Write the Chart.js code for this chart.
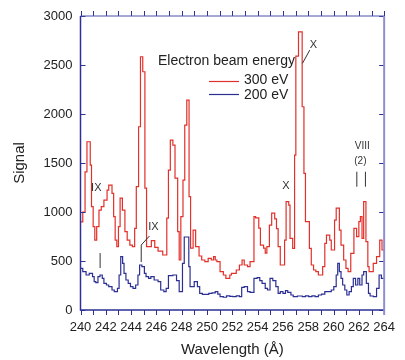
<!DOCTYPE html>
<html>
<head>
<meta charset="utf-8">
<script src="https://cdn.jsdelivr.net/npm/chart.js@4.4.1/dist/chart.umd.min.js"></script>
<style>
  html, body { margin: 0; padding: 0; background: #fff; }
  #wrap { width: 405px; height: 360px; }
</style>
</head>
<body>
<div id="wrap"><canvas id="spectrum" width="405" height="360"></canvas></div>
<script>
// Step edges (Å) and signal for 300 eV beam energy
const wl300 = [240.0, 240.18, 240.36, 240.51, 240.77, 240.87, 241.0, 241.13, 241.28, 241.46, 241.64, 241.85,
  242.1, 242.23, 242.49, 242.62, 242.74, 242.87, 243.0, 243.13, 243.31, 243.51, 243.69, 243.9, 244.1, 244.28,
  244.41, 244.59, 244.74, 244.92, 245.09, 245.22, 245.6, 245.87, 246.13, 246.5, 246.82, 246.95, 247.1, 247.3,
  247.47, 247.68, 247.8, 247.93, 248.1, 248.24, 248.4, 248.58, 248.7, 248.9, 249.1, 249.37, 249.58, 249.83,
  250.09, 250.34, 250.52, 250.65, 250.78, 251.03, 251.29, 251.49, 251.8, 251.93, 252.31, 252.56, 252.77, 252.94,
  253.2, 253.4, 253.71, 253.84, 254.09, 254.22, 254.47, 254.6, 254.73, 254.93, 255.11, 255.35, 255.49, 255.62,
  255.79, 256.13, 256.25, 256.46, 256.56, 256.77, 256.92, 257.02, 257.23, 257.52, 257.66, 257.78, 258.09, 258.24,
  258.42, 258.6, 258.8, 259.14, 259.31, 259.44, 259.7, 259.82, 260.08, 260.21, 260.46, 260.59, 260.8, 260.98,
  261.15, 261.36, 261.61, 261.82, 262.0, 262.12, 262.25, 262.38, 262.56, 262.71, 262.81, 263.14, 263.4, 263.65,
  263.83, 264.0];
const signal300 = [900, 1000, 1410, 1717, 1479, 1054, 850, 714, 850, 1020, 1054, 1122,
  1224, 1275, 1190, 952, 714, 646, 850, 1142, 1020, 799, 714, 663, 646, 833,
  1258, 1870, 2584, 2431, 1244, 646, 707, 640, 600, 561, 938, 1428, 1734, 1683,
  1346, 799, 510, 952, 1326, 1887, 2142, 1156, 632, 816, 646, 551, 510, 493,
  527, 510, 544, 510, 493, 391, 357, 323, 357, 374, 408, 459, 510, 459,
  442, 493, 952, 940, 836, 663, 632, 581, 646, 867, 989, 930, 830, 646,
  459, 714, 1105, 1071, 731, 629, 1580, 2590, 2839, 2074, 1394, 901, 629, 459,
  408, 391, 357, 442, 680, 765, 714, 612, 918, 1040, 816, 663, 510, 425,
  391, 578, 833, 748, 901, 952, 731, 1105, 697, 442, 391, 476, 544, 714,
  612, 612];

// Step edges (Å) and signal for 200 eV beam energy
const wl200 = [240.0, 240.18, 240.44, 240.69, 240.95, 241.08, 241.21, 241.38, 241.54, 241.72, 241.85, 242.05,
  242.23, 242.49, 242.67, 242.92, 243.05, 243.18, 243.33, 243.44, 243.59, 243.77, 243.95, 244.15, 244.36, 244.54,
  244.67, 244.85, 245.05, 245.18, 245.38, 245.56, 245.82, 246.13, 246.34, 246.59, 246.77, 246.95, 247.3, 247.59,
  247.8, 248.06, 248.2, 248.56, 248.66, 248.99, 249.24, 249.42, 249.63, 250.14, 250.39, 250.65, 250.85, 251.03,
  251.29, 251.54, 251.8, 252.05, 252.31, 252.56, 252.74, 252.94, 253.2, 253.4, 253.71, 253.96, 254.17, 254.35,
  254.6, 254.78, 254.98, 255.2, 255.44, 255.62, 255.79, 256.0, 256.2, 256.38, 256.63, 256.81, 257.14, 257.53,
  257.78, 258.03, 258.29, 258.54, 258.8, 259.05, 259.31, 259.82, 260.02, 260.21, 260.33, 260.46, 260.59, 260.72,
  260.89, 261.05, 261.23, 261.41, 261.56, 261.74, 261.92, 262.07, 262.25, 262.38, 262.59, 262.76, 262.89, 263.14,
  263.4, 263.6, 263.78, 264.0];
const signal200 = [425, 391, 357, 374, 340, 289, 280, 340, 357, 323, 272, 255,
  238, 204, 187, 221, 357, 544, 476, 374, 306, 272, 238, 221, 255, 357,
  459, 442, 374, 340, 323, 340, 306, 289, 204, 187, 220, 350, 357, 300,
  187, 476, 745, 442, 238, 289, 238, 170, 160, 170, 175, 187, 163, 136,
  130, 145, 140, 136, 145, 136, 231, 238, 187, 180, 323, 330, 300, 272,
  221, 204, 323, 300, 238, 170, 187, 170, 197, 180, 153, 136, 143, 136,
  145, 136, 145, 136, 153, 163, 187, 204, 238, 357, 476, 391, 323, 255,
  204, 153, 187, 238, 323, 255, 323, 255, 357, 391, 272, 170, 143, 136,
  221, 357, 323, 323];

const xTicks = [240, 242, 244, 246, 248, 250, 252, 254, 256, 258, 260, 262, 264];
const yTicks = [0, 500, 1000, 1500, 2000, 2500, 3000];

// Ion-stage labels: text, wavelength, signal
const labelTexts = ['IX', 'IX', 'X', 'X', 'VIII', '(2)'];
const labelWl = [241.25, 245.76, 256.23, 258.41, 262.27, 262.12];
const labelSig = [1244, 847, 1270, 2703, 1668, 1520];
// Marker lines: [wl1, sig1, wl2, sig2]
const markLines = [
  [241.55, 581, 241.55, 428],
  [244.8, 663, 244.8, 490],
  [244.8, 663, 245.45, 755],
  [257.54, 2516, 258.12, 2652],
  [261.84, 1411, 261.84, 1258],
  [262.52, 1411, 262.52, 1258]
];

const toPoints = (xs, ys) => xs.map((x, i) => ({ x: x, y: ys[i] }));

const AXIS_BLUE = '#2e3192';
const FONT = 'Liberation Sans, Arial, sans-serif';

const framePlugin = {
  id: 'frame',
  afterDraw(chart) {
    const ctx = chart.ctx;
    const { left, right, top, bottom } = chart.chartArea;
    const xs = chart.scales.x, ys = chart.scales.y;
    ctx.save();
    // ticks
    ctx.strokeStyle = AXIS_BLUE;
    ctx.lineWidth = 1;
    ctx.beginPath();
    for (let v = 240; v <= 264; v++) {
      const px = Math.round(xs.getPixelForValue(v)) + 0.5;
      ctx.moveTo(px, bottom); ctx.lineTo(px, bottom + 5);
      ctx.moveTo(px, top); ctx.lineTo(px, top - 5);
    }
    yTicks.forEach(v => {
      const py = Math.round(ys.getPixelForValue(v)) + 0.5;
      ctx.moveTo(left, py); ctx.lineTo(left + 5, py);
      ctx.moveTo(right, py); ctx.lineTo(right - 5, py);
    });
    ctx.stroke();
    // frame
    ctx.lineWidth = 1.5;
    ctx.beginPath();
    ctx.moveTo(left, top); ctx.lineTo(left, bottom); ctx.lineTo(right, bottom);
    ctx.stroke();
    ctx.lineWidth = 1;
    ctx.strokeStyle = '#4a4ea8';
    ctx.beginPath();
    ctx.moveTo(left, top); ctx.lineTo(right, top);
    ctx.stroke();
    ctx.lineWidth = 2;
    ctx.strokeStyle = '#8d8fcf';
    ctx.beginPath();
    ctx.moveTo(right, top); ctx.lineTo(right, bottom + 5);
    ctx.stroke();

    // annotations
    ctx.strokeStyle = '#333';
    ctx.lineWidth = 1;
    ctx.beginPath();
    markLines.forEach(m => {
      ctx.moveTo(xs.getPixelForValue(m[0]), ys.getPixelForValue(m[1]));
      ctx.lineTo(xs.getPixelForValue(m[2]), ys.getPixelForValue(m[3]));
    });
    ctx.stroke();
    ctx.fillStyle = '#333';
    ctx.textAlign = 'center';
    ctx.textBaseline = 'middle';
    labelTexts.forEach((t, i) => {
      ctx.font = (t === 'VIII' || t === '(2)' ? '10px ' : '11px ') + FONT;
      ctx.fillText(t, xs.getPixelForValue(labelWl[i]), ys.getPixelForValue(labelSig[i]));
    });

    // legend
    ctx.fillStyle = '#222';
    ctx.font = '14px ' + FONT;
    ctx.textAlign = 'left';
    ctx.textBaseline = 'alphabetic';
    ctx.fillText('Electron beam energy', 158, 65);
    ctx.fillText('300 eV', 244, 84);
    ctx.fillText('200 eV', 244, 99);
    ctx.lineWidth = 1.2;
    ctx.strokeStyle = chart.data.datasets[0].borderColor;
    ctx.beginPath(); ctx.moveTo(209, 81.5); ctx.lineTo(239, 81.5); ctx.stroke();
    ctx.strokeStyle = chart.data.datasets[1].borderColor;
    ctx.beginPath(); ctx.moveTo(209, 94.5); ctx.lineTo(239, 94.5); ctx.stroke();
    ctx.restore();
  }
};

const ctx = document.getElementById('spectrum').getContext('2d');
const spectrumChart = new Chart(ctx, {
  type: 'line',
  data: {
    datasets: [{
      label: '300 eV',
      data: toPoints(wl300, signal300),
      borderColor: '#e2302a',
      borderWidth: 1.2,
      stepped: 'before',
      pointRadius: 0,
      fill: false
    }, {
      label: '200 eV',
      data: toPoints(wl200, signal200),
      borderColor: '#2b2f93',
      borderWidth: 1.2,
      stepped: 'before',
      pointRadius: 0,
      fill: false
    }]
  },
  options: {
    responsive: false,
    animation: false,
    layout: { padding: { top: 16, right: 11, left: 0, bottom: 0 } },
    plugins: { legend: { display: false }, tooltip: { enabled: false } },
    scales: {
      x: {
        type: 'linear',
        min: 240,
        max: 264,
        afterBuildTicks: scale => { scale.ticks = xTicks.map(v => ({ value: v })); },
        afterFit: scale => { scale.height = 50; },
        grid: { display: false, drawTicks: false },
        border: { display: false },
        ticks: { color: '#222', font: { family: FONT, size: 13 }, padding: 10, maxRotation: 0, autoSkip: false,
          callback: v => String(v) },
        title: { display: true, text: 'Wavelength (Å)', color: '#222', font: { family: FONT, size: 15 }, padding: { top: 0, bottom: 1 } }
      },
      y: {
        min: 0,
        max: 3000,
        afterBuildTicks: scale => { scale.ticks = yTicks.map(v => ({ value: v })); },
        afterFit: scale => { scale.width = 80.5; },
        grid: { display: false, drawTicks: false },
        border: { display: false },
        ticks: { color: '#222', font: { family: FONT, size: 13 }, padding: 8, callback: v => String(v) },
        title: { display: true, text: 'Signal', color: '#222', font: { family: FONT, size: 15 }, padding: { top: 11, bottom: 0 } }
      }
    }
  },
  plugins: [framePlugin]
});
</script>
</body>
</html>
